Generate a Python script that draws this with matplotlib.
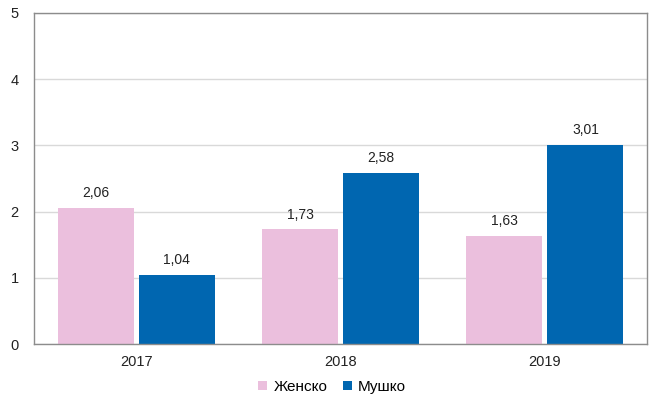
import matplotlib
matplotlib.use('Agg')
import matplotlib.pyplot as plt
import numpy as np

plt.rcParams['font.family'] = ['Liberation Sans', 'DejaVu Sans']

# ── data
years  = ['2017', '2018', '2019']
female = [2.06, 1.73, 1.63]
male   = [1.04, 2.58, 3.01]
series_names = ['Женско', 'Мушко']

PINK = '#ebbfdd'
BLUE = '#0066b0'

W, H = 651, 401
fig = plt.figure(figsize=(W / 100, H / 100), dpi=100)
ax = fig.add_axes([34 / W, 1 - 344 / H, (647 - 34) / W, (344 - 13) / H])

x = np.arange(len(years))
bw = 0.372
gap = 0.025
b1 = ax.bar(x - bw / 2 - gap / 2, female, bw, color=PINK, label=series_names[0], zorder=2)
b2 = ax.bar(x + bw / 2 + gap / 2, male, bw, color=BLUE, label=series_names[1], zorder=2)

for bars, vals in ((b1, female), (b2, male)):
    for r, v in zip(bars, vals):
        ax.text(r.get_x() + r.get_width() / 2, v + 0.12, f'{v:.2f}'.replace('.', ','),
                ha='center', va='bottom', fontsize=10, color='#222222')

ax.set_xlim(-0.5, 2.5)
ax.set_ylim(0, 5)
ax.set_yticks(range(6))
ax.set_xticks(x)
ax.set_xticklabels(years)
ax.yaxis.grid(True, color='#d9d9d9', linewidth=1, zorder=0)
ax.set_axisbelow(True)
ax.tick_params(length=0, labelsize=10.5, colors='#222222')
ax.tick_params(axis='x', pad=8)
ax.tick_params(axis='y', pad=11)
for s in ax.spines.values():
    s.set_color('#8c8c8c')
    s.set_linewidth(1)

fig.legend(handles=[b1, b2], loc='center', bbox_to_anchor=(0.51, 1 - 387 / H),
           ncol=2, frameon=False, fontsize=11, handlelength=0.6, handleheight=0.6,
           handletextpad=0.4, columnspacing=1.0)

fig.savefig('out.png', dpi=100)
